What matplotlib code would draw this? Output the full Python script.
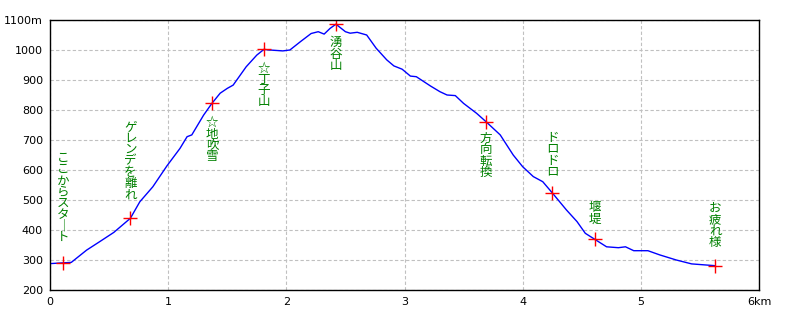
import matplotlib
matplotlib.use("Agg")
import matplotlib.pyplot as plt

plt.rcParams['font.family'] = ['Noto Sans CJK JP', 'DejaVu Sans']

# elevation profile (km, m)
dist = [0.00, 0.00, 0.18, 0.31, 0.42, 0.54, 0.68, 0.76, 0.87, 0.99, 1.10, 1.16,
        1.20, 1.30, 1.37, 1.44, 1.50, 1.55, 1.66, 1.75, 1.81, 1.86, 1.97, 2.03,
        2.12, 2.21, 2.27, 2.32, 2.37, 2.42, 2.50, 2.54, 2.60, 2.68, 2.76, 2.85,
        2.91, 2.98, 3.05, 3.10, 3.22, 3.30, 3.36, 3.43, 3.50, 3.61, 3.69, 3.81,
        3.92, 4.00, 4.09, 4.17, 4.25, 4.37, 4.46, 4.53, 4.61, 4.71, 4.81, 4.87,
        4.94, 5.06, 5.16, 5.30, 5.43, 5.63]
elev = [245, 288, 292, 333, 361, 392, 439, 494, 544, 614, 672, 711,
        717, 783, 822, 856, 872, 883, 944, 983, 1002, 1000, 997, 1000,
        1028, 1055, 1061, 1053, 1072, 1086, 1061, 1056, 1059, 1050, 1006, 967,
        947, 936, 913, 911, 880, 861, 850, 848, 822, 789, 761, 717,
        650, 611, 578, 561, 524, 467, 428, 389, 369, 344, 341, 344,
        331, 331, 317, 300, 287, 281]

# waypoints
wp_x = [0.11, 0.68, 1.37, 1.81, 2.42, 3.69, 4.25, 4.61, 5.63]
wp_y = [289, 439, 822, 1002, 1086, 761, 524, 369, 281]
wp_names = ["ここからスタート", "ゲレンデを離れ", "☆地吹雪", "☆丁子山", "湧谷山",
            "方向転換", "ドロドロ", "堰堤", "お疲れ様"]
# top of each label (m)
label_top = [660, 765, 779, 962, 1046, 726, 730, 496, 493]

xticks = [0, 1, 2, 3, 4, 5, 6]
xlabels = ["0", "1", "2", "3", "4", "5", "6km"]
yticks = [200, 300, 400, 500, 600, 700, 800, 900, 1000, 1100]
ylabels = ["200", "300", "400", "500", "600", "700", "800", "900", "1000", "1100m"]

fig = plt.figure(figsize=(8, 3.2), dpi=100)
ax = fig.add_axes([0.0625, 0.09375, 0.88625, 0.84375])

ax.plot(dist, elev, color="#0000ff", lw=1)
ax.plot(wp_x, wp_y, "+", color="#ff0000", ms=10, mew=1)

for x, top, name in zip(wp_x, label_top, wp_names):
    vert = "\n".join(name.replace("ー", "｜"))
    ax.text(x, top, vert, color="#008000", fontsize=9, ha="center", va="top",
            linespacing=0.83)

ax.set_xlim(0, 6)
ax.set_ylim(200, 1100)
ax.set_xticks(xticks)
ax.set_xticklabels(xlabels)
ax.set_yticks(yticks)
ax.set_yticklabels(ylabels)
ax.tick_params(length=0, labelsize=8, pad=5)
for lab in ax.get_xticklabels() + ax.get_yticklabels():
    lab.set_family("DejaVu Sans")
ax.grid(True, color="#c0c0c0", linestyle=(0, (3, 2)), lw=0.8)
for s in ax.spines.values():
    s.set_color("black")
    s.set_linewidth(1)

fig.savefig("out.png", dpi=100)
